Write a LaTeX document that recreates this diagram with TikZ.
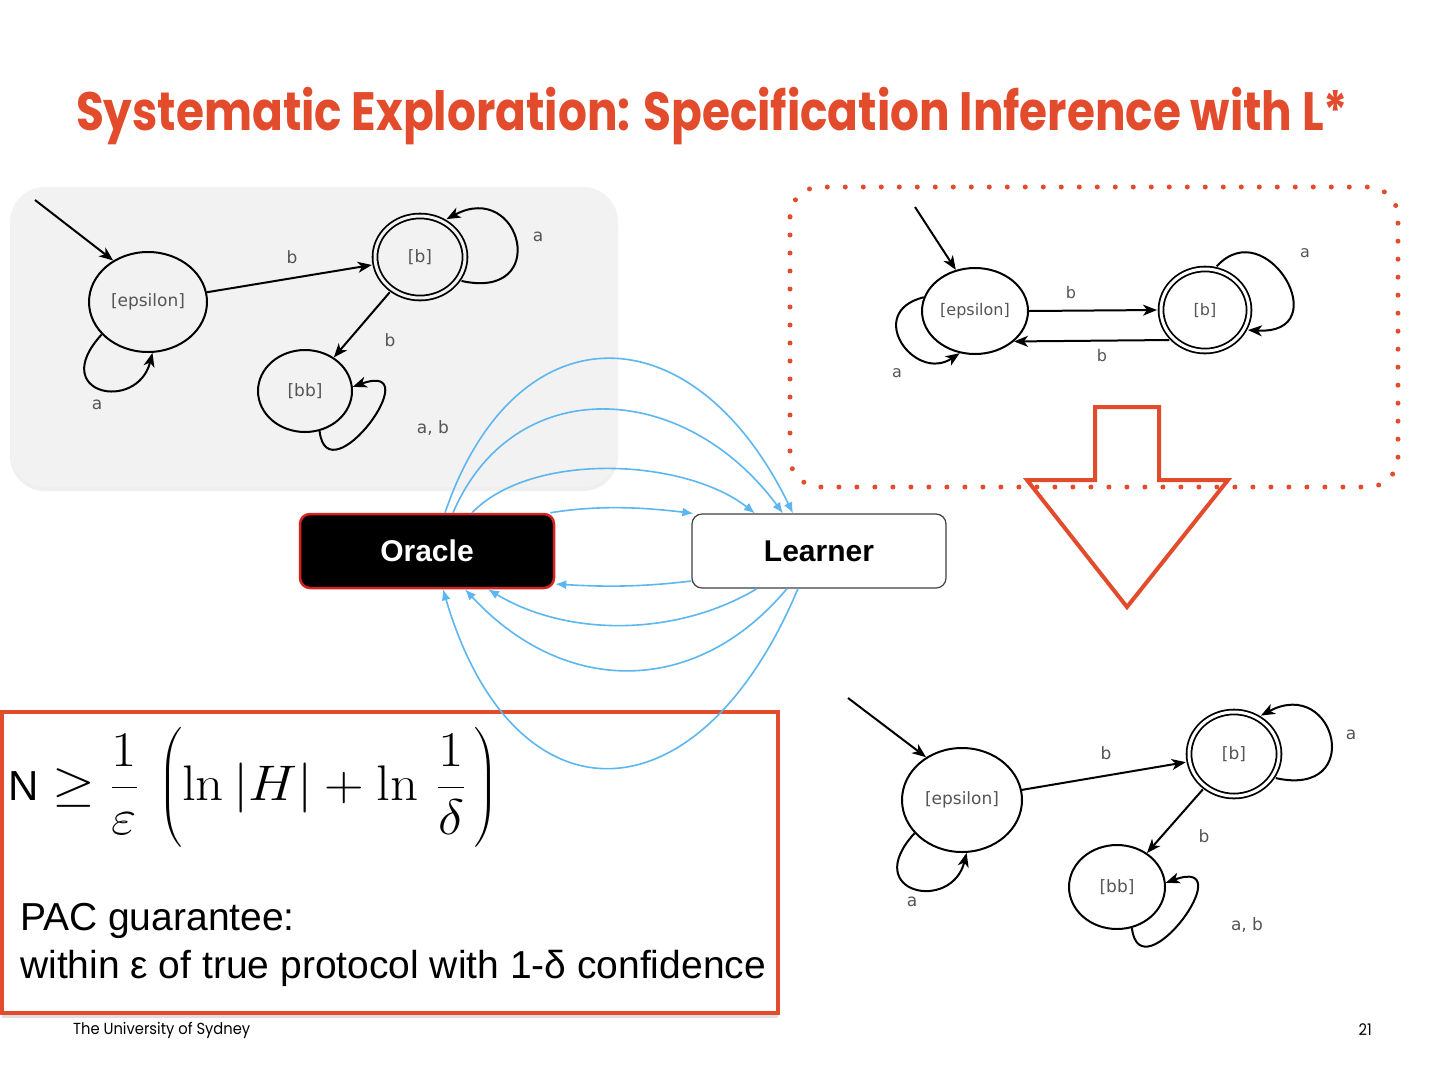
\RequirePackage{fix-cm}
\documentclass[tikz,border=0pt]{standalone}
\usepackage{amsmath}
\usepackage{graphicx}
\usepackage[no-math]{fontspec}
\setmainfont{Liberation Sans}
\newfontfamily\titlefont{Poppins}[FakeStretch=0.84]
\newfontfamily\footfont{Poppins}[FakeStretch=0.92]
\newfontfamily\autfont{DejaVu Sans}
\usetikzlibrary{arrows.meta,shapes.geometric,shadows,calc}
\definecolor{accent}{RGB}{226,75,44}
\definecolor{oraclered}{RGB}{215,35,30}
\definecolor{flowblue}{RGB}{92,182,240}
\definecolor{boxgrey}{RGB}{242,242,242}
\definecolor{autgray}{RGB}{85,85,85}
\begin{document}
\begin{tikzpicture}[x=1pt,y=-1pt,
  autstate/.style={ellipse, draw=black, line width=2pt, inner sep=0pt, text=autgray,
    font=\autfont\fontsize{17}{20}\selectfont},
  accstate/.style={autstate, double=#1, double distance=3pt, line width=1.8pt, outer sep=4pt},
  autedge/.style={draw=black, line width=2pt, -{Stealth[length=14pt,width=11pt,inset=4pt]}},
  autlabel/.style={text=autgray, font=\autfont\fontsize{17}{20}\selectfont, inner sep=0pt},
  flow/.style={draw=flowblue, line width=1.6pt, -{Latex[length=11pt,width=9pt]}},
  actor/.style={rounded corners=10pt, minimum width=254pt, minimum height=74pt,
    font=\bfseries\fontsize{30}{36}\selectfont}
]
\useasboundingbox (0,0) rectangle (1440,1080);
\fill[white] (0,0) rectangle (1440,1080);

% title
\node[anchor=base, text=accent, inner sep=0pt,
  font=\titlefont\bfseries\fontsize{54}{60}\selectfont] (title) at (712,130)
  {Systematic Exploration: Specification Inference with L*};

% grey panel (left automaton)
\path[fill=boxgrey, rounded corners=35pt,
  drop shadow={opacity=0.12, shadow xshift=0pt, shadow yshift=-4pt}] (10,187) rectangle (618,487);

% ---------- automaton 1 (top left)
\node[autstate, minimum width=118pt, minimum height=100pt] (e1) at (148,302) {[epsilon]};
\node[accstate=boxgrey, minimum width=90pt, minimum height=82pt] (b1) at (420,257) {[b]};
\node[autstate, minimum width=94pt, minimum height=82pt] (bb1) at (305,391) {[bb]};
\coordinate (i1) at (35,200);
\draw[autedge] (i1) -- (e1.130);
\draw[autedge] (e1) -- (b1);
\draw[autedge] (b1) -- (bb1);
\draw[autedge] (b1.-30) .. controls +(90,20) and +(75,-40) .. (b1.55);
\draw[autedge] (bb1.-70) .. controls +(8,68) and +(78,-28) .. (bb1.5);
\draw[autedge] (e1.215) .. controls +(-55,60) and +(-15,60) .. (e1.-85);
\node[autlabel] (l1a) at (292,257) {b};
\node[autlabel] (l1b) at (390,340) {b};
\node[autlabel] (l1c) at (538,237) {a};
\node[autlabel] (l1d) at (433,428) {a, b};
\node[autlabel] (l1e) at (97,405) {a};

% ---------- automaton 2 (top right, dotted panel)
\node[autstate, minimum width=106pt, minimum height=86pt,
  font=\autfont\fontsize{16}{19}\selectfont] (e2) at (975,311) {[epsilon]};
\node[accstate=white, minimum width=88pt, minimum height=82pt,
  font=\autfont\fontsize{16}{19}\selectfont] (b2) at (1205,310) {[b]};
\coordinate (i2) at (915,207);
\draw[autedge] (i2) -- (e2.115);
\draw[autedge] (e2.east) -- (b2.west);
\draw[autedge] (b2.-140) -- (e2.-38);
\draw[autedge] (b2.75) .. controls +(50,-55) and +(90,5) .. (b2.-25);
\draw[autedge] (e2.165) .. controls +(-60,15) and +(-45,30) .. (e2.-110);
\node[autlabel, font=\autfont\fontsize{16}{19}\selectfont] (l2a) at (1071,293) {b};
\node[autlabel, font=\autfont\fontsize{16}{19}\selectfont] (l2b) at (1102,356) {b};
\node[autlabel, font=\autfont\fontsize{16}{19}\selectfont] (l2c) at (1305,253) {a};
\node[autlabel, font=\autfont\fontsize{16}{19}\selectfont] (l2d) at (897,373) {a};

% red hollow arrow
\draw[accent, line width=4pt, line join=miter]
  (1095,407) -- (1159,407) -- (1159,480) -- (1228,480) -- (1127,607)
  -- (1027,480) -- (1095,480) -- cycle;
% dotted panel
\draw[accent, line width=5pt, line cap=round, dash pattern=on 0pt off 18pt, rounded corners=30pt]
  (790,187) rectangle (1398,487);

% ---------- automaton 3 (bottom right)
\node[autstate, minimum width=120pt, minimum height=104pt] (e3) at (962,800) {[epsilon]};
\node[accstate=white, minimum width=90pt, minimum height=84pt] (b3) at (1234,754) {[b]};
\node[autstate, minimum width=96pt, minimum height=84pt] (bb3) at (1117,887) {[bb]};
\coordinate (i3) at (848,698);
\draw[autedge] (i3) -- (e3.130);
\draw[autedge] (e3) -- (b3);
\draw[autedge] (b3) -- (bb3);
\draw[autedge] (b3.-30) .. controls +(90,20) and +(75,-40) .. (b3.55);
\draw[autedge] (bb3.-70) .. controls +(8,68) and +(78,-28) .. (bb3.5);
\draw[autedge] (e3.215) .. controls +(-55,60) and +(-15,60) .. (e3.-85);
\node[autlabel] (l3a) at (1106,753) {b};
\node[autlabel] (l3b) at (1204,836) {b};
\node[autlabel] (l3c) at (1351,735) {a};
\node[autlabel] (l3d) at (1247,925) {a, b};
\node[autlabel] (l3e) at (912,902) {a};

% ---------- formula box
\draw[accent, line width=4pt, fill=white,
  drop shadow={opacity=0.25, shadow xshift=0pt, shadow yshift=-5pt}] (2,712) rectangle (778,1013);
\node[anchor=base west, inner sep=0pt] (formula) at (8,800)
  {{\fontsize{42}{50}\selectfont N}\hspace{14pt}{\fontsize{50}{60}\selectfont\scalebox{1.1}[1]{$\displaystyle\geq\frac{1}{\varepsilon}\hspace{18pt}\biggl(\ln|H|+\ln\,\frac{1}{\delta}\,\biggr)$}}};
\node[anchor=base west, inner sep=0pt, align=left, font=\fontsize{39}{48}\selectfont] (pac) at (20,978)
  {PAC guarantee:\\within ε of true protocol with 1-δ confidence};

% ---------- Oracle / Learner
\node[actor, fill=black, draw=oraclered, line width=2.5pt, text=white] (oracle) at (427,551) {Oracle};
\node[actor, fill=white, draw=black!75, line width=1.2pt, text=black] (learner) at (819,551) {Learner};

\draw[flow] ([xshift=-5pt]oracle.north east) .. controls +(50,-8) and +(-50,-6) .. ([xshift=2pt]learner.north west);
\draw[flow] ([xshift=45pt]oracle.north) .. controls +(60,-62) and +(-70,-55) .. ([xshift=-64pt]learner.north);
\draw[flow] ([xshift=26pt]oracle.north) .. controls +(60,-140) and +(-100,-135) .. ([xshift=-36pt]learner.north);
\draw[flow] ([xshift=18pt]oracle.north) .. controls +(70,-205) and +(-100,-205) .. ([xshift=-26pt]learner.north);

\draw[flow] ([yshift=-30pt]learner.west) .. controls +(-50,6) and +(50,3) .. ([yshift=-33pt]oracle.east);
\draw[flow] ([xshift=-62pt]learner.south) .. controls +(-80,48) and +(80,48) .. ([xshift=61pt]oracle.south);
\draw[flow] ([xshift=-32pt]learner.south) .. controls +(-90,108) and +(100,108) .. ([xshift=38pt]oracle.south);
\draw[flow] ([xshift=-21pt]learner.south) .. controls +(-100,238) and +(70,238) .. ([xshift=16pt]oracle.south);

% footer
\node[anchor=west, inner sep=0pt, font=\footfont\fontsize{16}{18}\selectfont] (uni) at (73,1030) {The University of Sydney};
\node[anchor=east, inner sep=0pt, font=\footfont\fontsize{16}{18}\selectfont] (page) at (1372,1030) {21};
\end{tikzpicture}
\end{document}
